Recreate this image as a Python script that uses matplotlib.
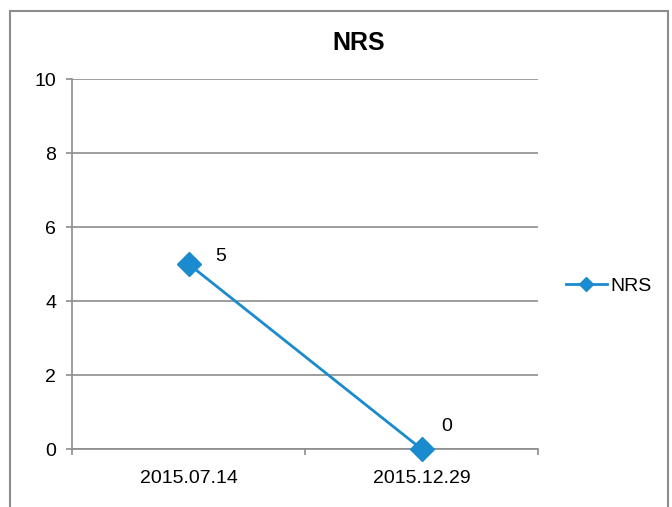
import matplotlib.pyplot as plt
from matplotlib.patches import Rectangle
from matplotlib.lines import Line2D

dates = ['2015.07.14', '2015.12.29']
nrs = [5, 0]
series_name = 'NRS'
# data label offsets from the marker, in pixels (right, up)
label_offsets = [(27, 3), (20, 18)]

W, H = 672, 507
plt.rcParams['font.family'] = ['Liberation Sans', 'DejaVu Sans']
px = 72 / 100  # points per pixel at dpi 100

fig = plt.figure(figsize=(W / 100, H / 100), dpi=100)

# outer chart border (Excel style)
fig.patches.append(Rectangle((10 / W, -0.1), (668 - 10) / W, 1.1 - 11 / H,
                             transform=fig.transFigure, fill=False,
                             edgecolor='#8c8c8c', linewidth=1.5))

ax = fig.add_axes([72 / W, 1 - 449 / H, (538 - 72) / W, (449 - 79) / H])
blue = '#1a8bcf'
gray = '#8c8c8c'
x = [i + 0.5 for i in range(len(dates))]
ax.plot(x, nrs, color=blue, lw=2, marker='D', markersize=12.5,
        markeredgecolor=blue, markerfacecolor=blue, clip_on=False, zorder=5)
for xi, v, (dx, dy) in zip(x, nrs, label_offsets):
    ax.annotate(str(v), (xi, v), xytext=(dx * px, dy * px),
                textcoords='offset points', fontsize=14,
                ha='left', va='baseline')

ax.set_xlim(0, len(dates))
ax.set_ylim(0, 10)
ax.set_yticks(range(0, 11, 2))
ax.yaxis.grid(True, color=gray, lw=1.2)
ax.set_axisbelow(True)
ax.set_xticks(range(len(dates) + 1))
ax.set_xticklabels([])
ax.set_xticks(x, minor=True)
ax.set_xticklabels(dates, minor=True)
ax.tick_params(axis='x', which='minor', length=0, pad=15, labelsize=14)
ax.tick_params(axis='x', which='major', length=4.5, color=gray, width=1.2)
ax.tick_params(axis='y', length=4.5, color=gray, width=1.2, labelsize=14, pad=7)
for s in ['top', 'right']:
    ax.spines[s].set_visible(False)
for s in ['left', 'bottom']:
    ax.spines[s].set_color(gray)
    ax.spines[s].set_linewidth(1.2)

fig.text(359 / W, 1 - 50 / H, series_name, ha='center', va='baseline',
         fontsize=18, fontweight='bold')

handle = Line2D([], [], color=blue, lw=2, marker='D', markersize=7)
fig.legend([handle], [series_name], loc='center left',
           bbox_to_anchor=(566 / W, 1 - 286 / H), frameon=False,
           fontsize=14, handlelength=2.1, handletextpad=0.2,
           borderpad=0, borderaxespad=0)

fig.savefig('out.png', dpi=100)
